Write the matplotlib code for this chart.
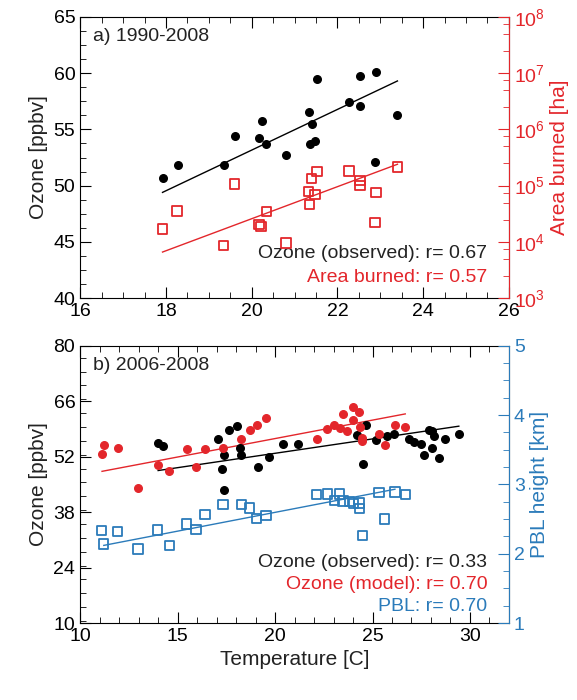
import numpy as np
import matplotlib
matplotlib.use('Agg')
import matplotlib.pyplot as plt
from matplotlib.ticker import MultipleLocator, LogLocator, NullFormatter

plt.rcParams['font.family'] = ['Liberation Sans', 'DejaVu Sans']

RED = '#e3262b'
BLUE = '#2b7bba'
GREY = '#222222'

# panel a) 1990-2008
temp_a = [17.92, 18.27, 19.35, 19.6, 20.17, 20.24, 20.34, 20.8, 21.34, 21.4,
          21.35, 21.48, 21.52, 22.27, 22.53, 22.53, 22.9, 22.88, 23.4]
ozone_a = [50.7, 51.8, 51.8, 54.4, 54.2, 55.7, 53.7, 52.7, 56.5, 55.5,
           53.7, 54.0, 59.5, 57.4, 59.75, 57.1, 60.1, 52.1, 56.3]
temp_a_area = [17.92, 18.26, 19.35, 19.6, 20.17, 20.22, 20.34, 20.8, 21.33, 21.35,
               21.4, 21.48, 21.52, 22.27, 22.53, 22.53, 22.9, 22.88, 23.4]
log_area = [4.23, 4.55, 3.94, 5.03, 4.31, 4.28, 4.54, 3.98, 4.9, 4.67,
            5.13, 4.84, 5.25, 5.26, 5.09, 5.0, 4.88, 4.34, 5.33]
fit_a_t = [17.92, 23.4]
fit_a_ozone = [49.4, 59.3]
fit_a_logarea = [3.82, 5.38]

# panel b) 2006-2008
temp_obs = [13.97, 14.27, 17.08, 17.36, 17.27, 17.37, 17.65, 18.05, 18.2, 18.26,
            19.1, 19.7, 20.41, 21.19, 24.2, 24.68, 24.52, 25.16, 25.72, 26.1,
            26.86, 27.15, 27.48, 27.63, 27.88, 28.05, 28.17, 28.05, 28.4, 28.72, 29.43]
ozone_obs = [55.5, 54.8, 56.5, 52.5, 49.0, 43.5, 58.7, 59.7, 54.1, 52.5,
             49.5, 51.9, 55.2, 55.2, 57.6, 60.1, 50.1, 56.1, 57.3, 57.7,
             56.5, 55.7, 55.3, 52.3, 58.7, 58.5, 57.3, 54.3, 51.7, 56.4, 57.7]
temp_mod = [11.12, 11.21, 11.93, 12.97, 13.97, 14.58, 15.46, 15.94, 16.41, 17.32,
            18.27, 18.7, 19.05, 19.53, 22.14, 22.68, 23.04, 23.32, 23.49, 23.7,
            23.99, 23.99, 24.3, 24.34, 24.44, 24.47, 25.34, 25.63, 26.15, 26.68]
ozone_mod = [52.7, 55.0, 54.3, 44.1, 50.0, 48.4, 54.0, 49.5, 53.9, 54.3,
             56.4, 58.7, 60.1, 61.7, 56.4, 59.1, 59.9, 59.3, 62.7, 58.4,
             64.6, 61.2, 63.2, 59.4, 56.6, 55.9, 57.8, 54.9, 60.1, 59.5]
temp_pbl = [11.09, 11.21, 11.93, 12.97, 13.97, 14.58, 15.46, 15.94, 16.41, 17.32,
            18.27, 18.7, 19.05, 19.53, 22.14, 22.68, 23.04, 23.32, 23.49, 23.82,
            24.02, 24.3, 24.34, 24.47, 25.34, 25.63, 26.15, 26.68]
pbl = [2.33, 2.14, 2.32, 2.07, 2.34, 2.12, 2.43, 2.35, 2.57, 2.71,
       2.71, 2.66, 2.51, 2.55, 2.85, 2.86, 2.77, 2.86, 2.76, 2.75,
       2.72, 2.73, 2.65, 2.26, 2.88, 2.5, 2.89, 2.85]
fit_obs_t = [14.0, 29.43]
fit_obs = [48.5, 59.7]
fit_mod_t = [11.12, 26.68]
fit_mod = [48.3, 62.8]
fit_pbl_t = [11.21, 26.15]
fit_pbl = [2.12, 2.93]
ozone_ticks_b = [10, 24, 38, 52, 66, 80]


def style(ax, color, side):
    ax.tick_params(which='both', direction='in', labelsize=14)
    ax.tick_params(which='major', length=8)
    ax.tick_params(which='minor', length=4)
    if side == 'right':
        ax.tick_params(which='both', colors=color, labelcolor=color)
        ax.spines['right'].set_color(color)
        for s in ['left', 'top', 'bottom']:
            ax.spines[s].set_visible(False)


fig = plt.figure(figsize=(5.77, 7.0), dpi=100)

# --- top panel
ax1 = fig.add_axes([0.139, 0.574, 0.743, 0.402])
ax1.scatter(temp_a, ozone_a, s=30, color='black', zorder=3)
ax1.plot(fit_a_t, fit_a_ozone, color='black', lw=1)
ax1.set_xlim(16, 26)
ax1.set_ylim(40, 65)
ax1.xaxis.set_major_locator(MultipleLocator(2))
ax1.xaxis.set_minor_locator(MultipleLocator(0.5))
ax1.yaxis.set_major_locator(MultipleLocator(5))
ax1.yaxis.set_minor_locator(MultipleLocator(1.25))
ax1.set_ylabel('Ozone [ppbv]', fontsize=15, color=GREY)
ax1.xaxis.set_ticks_position('both')
style(ax1, 'black', 'left')
ax1.tick_params(axis='y', which='both', right=False)
ax1.text(0.03, 0.93, 'a) 1990-2008', transform=ax1.transAxes, fontsize=14, color=GREY, va='center')
ax1.text(0.95, 0.16, 'Ozone (observed): r= 0.67', transform=ax1.transAxes, fontsize=14, color=GREY, ha='right', va='center')
ax1.text(0.95, 0.075, 'Area burned: r= 0.57', transform=ax1.transAxes, fontsize=14, color=RED, ha='right', va='center')

ax1r = ax1.twinx()
ax1r.scatter(temp_a_area, np.power(10.0, log_area), s=45, marker='s', facecolors='none',
             edgecolors=RED, linewidths=1.3, zorder=3)
ax1r.plot(fit_a_t, np.power(10.0, fit_a_logarea), color=RED, lw=1)
ax1r.set_yscale('log')
ax1r.set_ylim(1e3, 1e8)
ax1r.yaxis.set_major_locator(LogLocator(base=10, numticks=10))
ax1r.yaxis.set_minor_locator(LogLocator(base=10, subs=(2.5, 5, 7.5), numticks=10))
ax1r.yaxis.set_minor_formatter(NullFormatter())
ax1r.set_ylabel('Area burned [ha]', fontsize=15, color=RED)
style(ax1r, RED, 'right')

# --- bottom panel
ax2 = fig.add_axes([0.139, 0.11, 0.743, 0.396])
ax2.scatter(temp_obs, ozone_obs, s=30, color='black', zorder=3)
ax2.scatter(temp_mod, ozone_mod, s=30, color=RED, zorder=3)
ax2.plot(fit_obs_t, fit_obs, color='black', lw=1)
ax2.plot(fit_mod_t, fit_mod, color=RED, lw=1)
ax2.set_xlim(10, 32)
ax2.set_ylim(10, 80)
ax2.xaxis.set_major_locator(MultipleLocator(5))
ax2.xaxis.set_minor_locator(MultipleLocator(1))
ax2.set_yticks(ozone_ticks_b)
ax2.yaxis.set_minor_locator(MultipleLocator(3.5))
ax2.set_ylabel('Ozone [ppbv]', fontsize=15, color=GREY)
ax2.set_xlabel('Temperature [C]', fontsize=15, color=GREY)
ax2.xaxis.set_ticks_position('both')
style(ax2, 'black', 'left')
ax2.tick_params(axis='y', which='both', right=False)
ax2.text(0.03, 0.93, 'b) 2006-2008', transform=ax2.transAxes, fontsize=14, color=GREY, va='center')
ax2.text(0.95, 0.22, 'Ozone (observed): r= 0.33', transform=ax2.transAxes, fontsize=14, color=GREY, ha='right', va='center')
ax2.text(0.95, 0.14, 'Ozone (model): r= 0.70', transform=ax2.transAxes, fontsize=14, color=RED, ha='right', va='center')
ax2.text(0.95, 0.06, 'PBL: r= 0.70', transform=ax2.transAxes, fontsize=14, color=BLUE, ha='right', va='center')

ax2r = ax2.twinx()
ax2r.scatter(temp_pbl, pbl, s=45, marker='s', facecolors='none', edgecolors=BLUE, linewidths=1.3, zorder=3)
ax2r.plot(fit_pbl_t, fit_pbl, color=BLUE, lw=1)
ax2r.set_ylim(1, 5)
ax2r.yaxis.set_major_locator(MultipleLocator(1))
ax2r.yaxis.set_minor_locator(MultipleLocator(0.25))
ax2r.set_ylabel('PBL height [km]', fontsize=15, color=BLUE)
style(ax2r, BLUE, 'right')

fig.savefig('out.png', dpi=100)
